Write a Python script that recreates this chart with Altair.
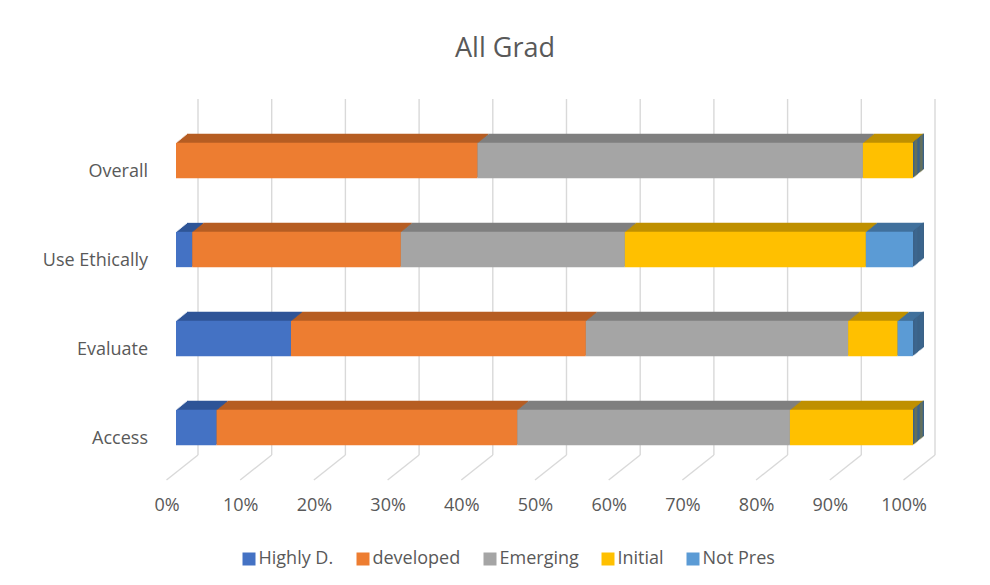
import altair as alt
import pandas as pd

# ---- data (percent of each row) ----
categories = ["Overall", "Use Ethically", "Evaluate", "Access"]
series = ["Highly D.", "developed", "Emerging", "Initial", "Not Pres"]
highly_d = [0.0, 2.2, 15.6, 5.5]
developed = [40.9, 28.3, 40.0, 40.8]
emerging = [52.3, 30.4, 35.6, 37.0]
initial = [6.8, 32.7, 6.7, 16.7]
not_pres = [0.0, 6.4, 2.1, 0.0]
tick_values = [0, 10, 20, 30, 40, 50, 60, 70, 80, 90, 100]

# ---- styling ----
front_colors = ["#4472C4", "#ED7D31", "#A5A5A5", "#FFC000", "#5B9BD5"]
top_colors = ["#2F5597", "#B65E23", "#7F7F7F", "#BF9000", "#41719C"]
side_color = "#3B6288"
text_color = "#595959"
FONT = "Open Sans"
WEIGHT = 500

cols = [highly_d, developed, emerging, initial, not_pres]
rows = []
for si, (s, vals) in enumerate(zip(series, cols)):
    for c, v in zip(categories, vals):
        rows.append({"category": c, "series": s, "value": v, "order": si})
df = pd.DataFrame(rows)
df_side = pd.DataFrame({"category": categories, "end": [100] * len(categories)})
df_grid = pd.DataFrame({"t": tick_values})

x_axis = alt.Axis(values=tick_values, labelExpr="datum.value + '%'", grid=False,
                  domain=False, ticks=False, labelFlush=False, labelOffset=-9.5,
                  labelPadding=33.5, labelBaseline="middle", labelFont=FONT,
                  labelFontSize=18, labelFontWeight=WEIGHT, labelColor=text_color,
                  title=None)
y_axis = alt.Axis(domain=False, ticks=False, grid=False, labelPadding=28.5,
                  labelOffset=11, labelBaseline="middle", labelFont=FONT,
                  labelFontSize=18, labelFontWeight=WEIGHT, labelColor=text_color,
                  title=None)
x_scale = alt.Scale(domain=[0, 100], nice=False, zero=True)
y_scale = alt.Scale(domain=categories, paddingInner=0.603, paddingOuter=0.3015)

Y = alt.Y("category:N", sort=categories, scale=y_scale, axis=y_axis)

grid_v = alt.Chart(df_grid).mark_rule(color="#D9D9D9", strokeWidth=1.4, xOffset=22).encode(
    x=alt.X("t:Q", scale=x_scale, axis=x_axis),
    y=alt.value(-17), y2=alt.value(339))
grid_s = alt.Chart(df_grid).mark_rule(color="#D9D9D9", strokeWidth=1.4, xOffset=22, x2Offset=-9.5).encode(
    x=alt.X("t:Q", scale=x_scale, axis=x_axis), x2="t:Q",
    y=alt.value(339), y2=alt.value(364))

top_expr = "[" + ",".join("'%s'" % c for c in top_colors) + "][datum.order]"

layers = [grid_v, grid_s]
N = 9
for k in range(N, 0, -1):
    dx = k * 11.0 / N
    dy = -k * 1.0
    depth = alt.Chart(df).transform_filter("datum.value > 0").transform_calculate(
        topc=top_expr).mark_bar(
        xOffset=dx, x2Offset=dx, yOffset=dy, y2Offset=dy).encode(
        x=alt.X("value:Q", stack="zero", scale=x_scale, axis=x_axis),
        y=Y,
        fill=alt.Fill("topc:N", scale=None),
        order=alt.Order("order:Q"))
    side = alt.Chart(df_side).mark_bar(
        color=side_color, xOffset=dx - 1.4, x2Offset=dx, yOffset=dy, y2Offset=dy).encode(
        x=alt.X("end:Q", scale=x_scale, axis=x_axis), x2="end:Q", y=Y)
    layers += [depth, side]

front = alt.Chart(df).transform_filter("datum.value > 0").mark_bar().encode(
    x=alt.X("value:Q", stack="zero", scale=x_scale, axis=x_axis),
    y=Y,
    color=alt.Color("series:N", scale=alt.Scale(domain=series, range=front_colors),
                    legend=alt.Legend(orient="none", legendX=64, legendY=434,
                                      direction="horizontal", title=None,
                                      symbolType="square", symbolSize=169,
                                      symbolStrokeWidth=0, labelFont=FONT,
                                      labelFontSize=18, labelFontWeight=WEIGHT,
                                      labelColor=text_color,
                                      labelOffset=0.5, columnPadding=20)),
    order=alt.Order("order:Q"))
layers.append(front)

chart = alt.layer(*layers).properties(
    width=737, height=356,
    padding={"left": 168, "top": 108, "right": 60, "bottom": 100},
    autosize=alt.AutoSizeParams(type="none"),
    title=alt.TitleParams("All Grad", anchor="middle", frame="group", dx=-39.5,
                          offset=35, font=FONT, fontSize=27, fontWeight=WEIGHT,
                          color=text_color),
).configure_view(stroke=None)

chart.save("out.html", embed_options={"renderer": "svg", "actions": False})
